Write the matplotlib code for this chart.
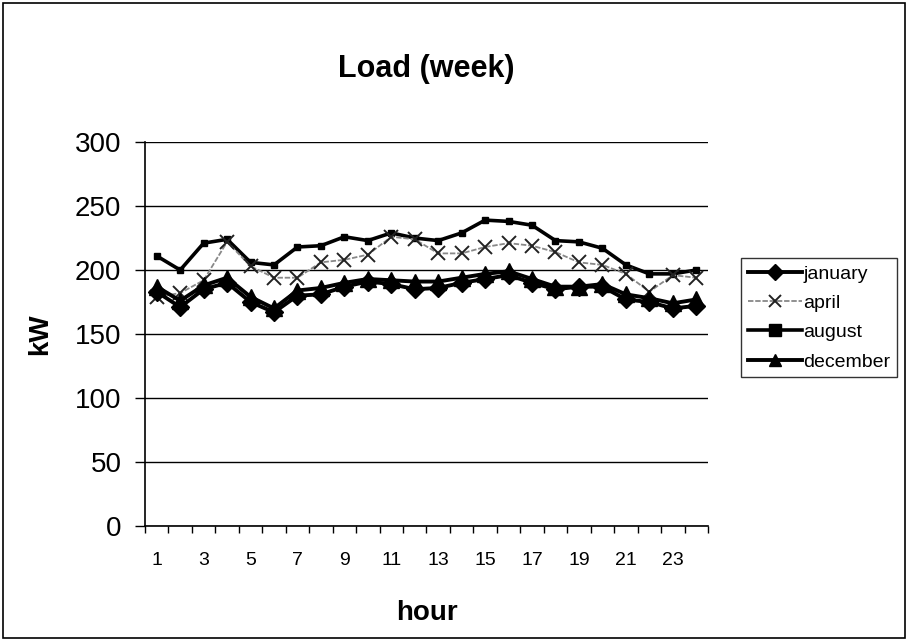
import matplotlib
matplotlib.use("Agg")
import matplotlib.pyplot as plt
from matplotlib.patches import Rectangle

plt.rcParams['font.family'] = ['Liberation Sans', 'DejaVu Sans']

# data
hours = list(range(1, 25))
january = [183, 171, 185, 190, 175, 167, 180, 181, 187, 191, 189, 185,
           186, 190, 193, 196, 190, 185, 187, 187, 177, 175, 170, 172]
april = [179, 182, 192, 222, 203, 194, 194, 206, 208, 212, 226, 224,
         213, 213, 218, 221, 219, 214, 206, 204, 197, 183, 196, 194]
august = [211, 200, 221, 224, 206, 204, 218, 219, 226, 223, 229, 225,
          223, 229, 239, 238, 235, 223, 222, 217, 204, 197, 197, 200]
december = [187, 176, 188, 194, 179, 170, 184, 186, 190, 193, 192, 191,
            191, 194, 197, 199, 193, 187, 187, 189, 181, 178, 174, 177]
xlabels = [str(h) for h in range(1, 24, 2)]
yticks = [0, 50, 100, 150, 200, 250, 300]

fig = plt.figure(figsize=(9.08, 6.41), dpi=100)
ax = fig.add_axes([0.1597, 0.1794, 0.62, 0.599])

ax.plot(hours, august, color='black', lw=2.6, marker='s', ms=4.5, label='_a')
ax.plot(hours, april, color='#888888', lw=1.3, ls=(0, (3, 1)), marker='x',
        ms=10, mew=1.4, mec='#222222', label='_b')
ax.plot(hours, december, color='black', lw=2.8, marker='^', ms=11, label='_d')
ax.plot(hours, january, color='black', lw=2.8, marker='D', ms=9, label='_j')

ax.set_xlim(0.5, 24.5)
ax.set_ylim(0, 300)
ax.set_yticks(yticks)
ax.set_yticklabels([str(v) for v in yticks], fontsize=20)
ax.set_xticks(list(range(1, 24, 2)))
ax.set_xticklabels(xlabels, fontsize=14)
ax.set_xticks([h + 0.5 for h in range(0, 25)], minor=True)
ax.tick_params(axis='x', which='major', length=0, pad=19)
ax.tick_params(axis='x', which='minor', length=5, width=1)
ax.tick_params(axis='y', length=7, width=1, pad=10)

ax.yaxis.grid(True, color='black', lw=1)
ax.set_axisbelow(True)
for s in ['top', 'right']:
    ax.spines[s].set_visible(False)
for s in ['left', 'bottom']:
    ax.spines[s].set_linewidth(1.2)

ax.set_ylabel('kW', fontsize=20, fontweight='bold', labelpad=16)
ax.set_xlabel('hour', fontsize=20, fontweight='bold', labelpad=22)
ax.set_title('Load (week)', fontsize=22, fontweight='bold', pad=47)

# legend in the order of the original
h = {l.get_label(): l for l in ax.get_lines()}
leg = fig.legend([h['_j'], h['_b'], h['_a'], h['_d']],
                 ['january', 'april', 'august', 'december'],
                 loc='upper left', bbox_to_anchor=(0.816, 0.597),
                 fontsize=14, frameon=True, fancybox=False,
                 edgecolor='black', handlelength=2.8, handletextpad=0.05,
                 borderpad=0.35, labelspacing=0.6, borderaxespad=0)
leg.get_frame().set_linewidth(1)
for line in leg.get_lines():
    line.set_markersize(8)

fig.patches.append(Rectangle((0.003, 0.004), 0.994, 0.992, fill=False,
                             ec='black', lw=1.2, transform=fig.transFigure))

fig.savefig('out.png', dpi=100)
